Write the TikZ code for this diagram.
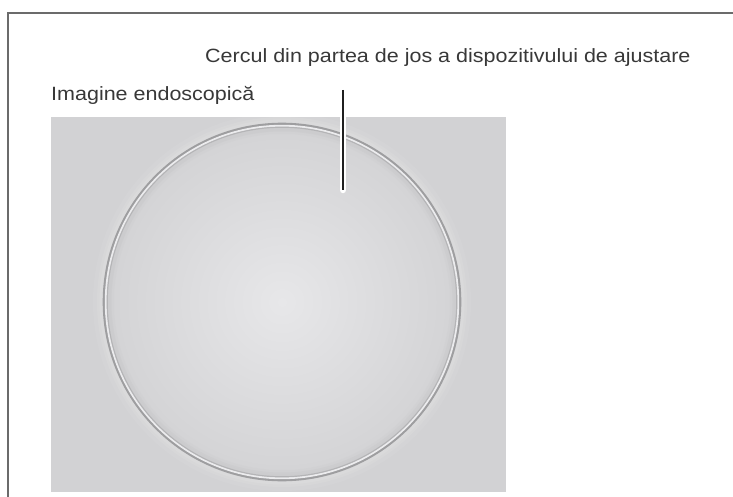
\documentclass[tikz,border=0pt]{standalone}
\usepackage{fontspec}
\setmainfont{Liberation Sans}[FakeStretch=1.12]
\definecolor{bggray}{RGB}{210,210,212}
\definecolor{discin}{RGB}{231,231,233}
\definecolor{discout}{RGB}{211,211,213}
\definecolor{innerband}{RGB}{196,196,198}
\definecolor{ringgray}{RGB}{158,158,160}
\definecolor{ringhi}{RGB}{236,236,238}
\begin{document}
\begin{tikzpicture}[x=1pt,y=-1pt,
  frameline/.style={draw=black!58,line width=1.3pt},
  labeltext/.style={text=black!78,font=\fontsize{19.2}{21}\selectfont,inner sep=0pt,anchor=base west},
]
\useasboundingbox (0,0) rectangle (733,497);
% frame
\coordinate (ftr) at (733,13);
\coordinate (ftl) at (8,13);
\coordinate (fbl) at (8,497);
\draw[frameline] (ftr) -- (ftl) -- (fbl);
% endoscopic image background
\fill[bggray] (51,117) rectangle (506,492);
% soft glow outside ring
\foreach \w/\o in {20/0.05,12/0.07,7/0.08}{
  \draw[white,line width=\w pt,opacity=\o] (282,302) circle[radius=179];
}
% inner disc
\shade[inner color=discin,outer color=discout] (282,302) circle[radius=176];
\foreach \w/\o in {10/0.15,5/0.3}{
  \draw[line width=\w pt,draw=innerband,opacity=\o] (282,302) circle[radius=173];
}
% ring
\draw[line width=2.6pt,draw=ringgray] (282,302) circle[radius=178];
\draw[line width=1.8pt,draw=ringhi] (282,302) circle[radius=176.3];
\draw[line width=1.2pt,draw=ringgray,opacity=0.5] (282,302) circle[radius=174.8];
% labels
\node[labeltext] (lab1) at (205,62.5) {Cercul din partea de jos a dispozitivului de ajustare};
\node[labeltext] (lab2) at (51,101) {Imagine endoscopică};
% leader
\coordinate (ltop) at (343,90);
\coordinate (lbot) at (343,190);
\draw[white,line width=6.5pt,line cap=round] (ltop) -- (lbot);
\draw[black!88,line width=2.6pt] (ltop) -- (lbot);
\end{tikzpicture}
\end{document}
